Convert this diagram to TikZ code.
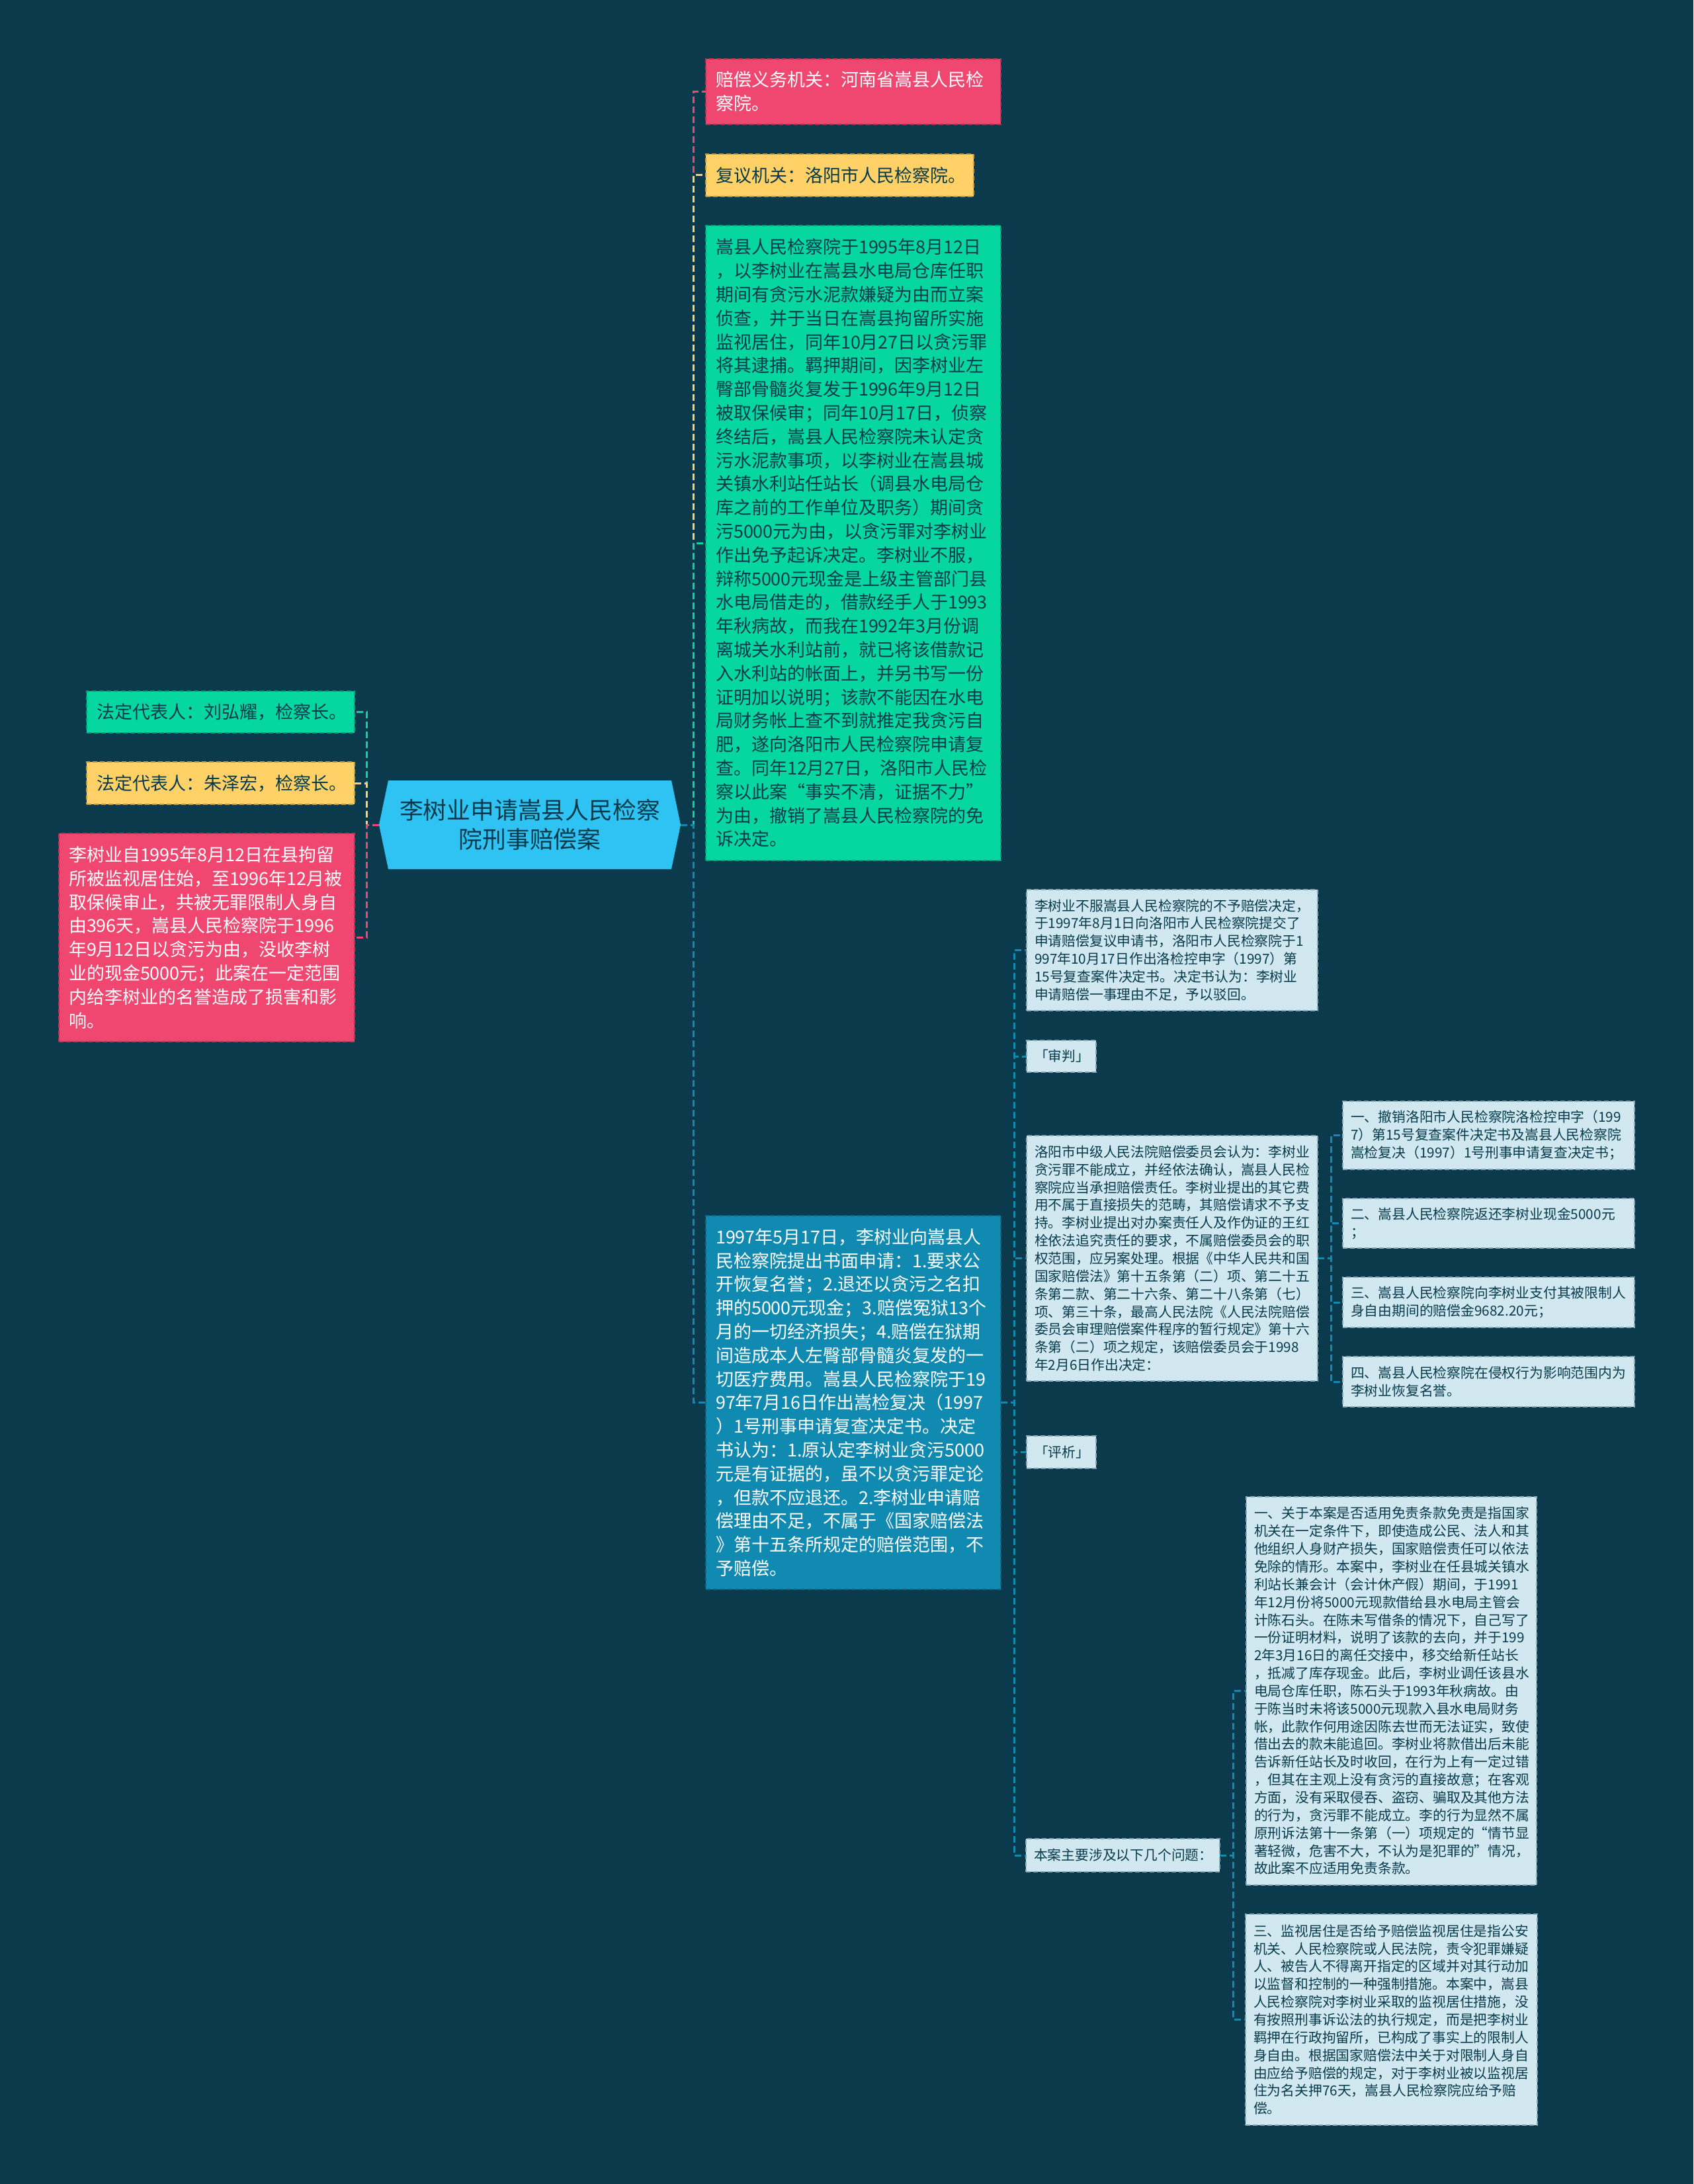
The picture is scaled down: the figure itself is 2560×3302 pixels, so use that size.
\documentclass[tikz,border=0pt]{standalone}
\usepackage{fontspec}
\setmainfont{Noto Sans CJK SC}
\definecolor{bgc}{HTML}{0A3A4C}
\definecolor{pinkc}{HTML}{EF476F}
\definecolor{yellowc}{HTML}{FFD166}
\definecolor{greenc}{HTML}{06D6A0}
\definecolor{bluec}{HTML}{118AB2}
\definecolor{centerc}{HTML}{2EC3F3}
\definecolor{lightc}{HTML}{D1E8F0}
\definecolor{lightd}{HTML}{8AA9B6}
\definecolor{darkc}{HTML}{073B4C}
\tikzset{
  boxbase/.style={rectangle, anchor=north west, outer sep=0pt, inner ysep=0pt, align=left, line width=2pt, dash pattern=on 7pt off 4pt},
  bigbox/.style={boxbase, inner xsep=15pt, font=\fontsize{27}{35.8}\selectfont},
  smallbox/.style={boxbase, inner xsep=12pt, font=\fontsize{20.8}{26.85}\selectfont, fill=lightc, draw=lightd, text=darkc},
  pinkbox/.style={bigbox, fill=pinkc, draw=pinkc!75!black, text=white},
  yellowbox/.style={bigbox, fill=yellowc, draw=yellowc!75!black, text=darkc},
  greenbox/.style={bigbox, fill=greenc, draw=greenc!75!black, text=darkc},
  bluebox/.style={bigbox, fill=bluec, draw=bluec!75!black, text=white},
  conn/.style={line width=3pt, dash pattern=on 10pt off 5pt},
}
\begin{document}
\begin{tikzpicture}[x=1pt,y=-1pt]
\useasboundingbox (0,0) rectangle (2560,3302);
\fill[bgc] (0,0) rectangle (2560,3302);

% center
\fill[centerc] (587,1180) -- (1015,1180) -- (1029,1247) -- (1015,1314) -- (587,1314) -- (573,1247) -- cycle;
\node[font=\fontsize{35.8}{44.6}\selectfont, text=darkc, align=center, minimum width=456pt, minimum height=134pt, inner sep=0pt, outer sep=0pt] (c) at (801,1247) {李树业申请嵩县人民检察\\院刑事赔偿案};

% right of center
\node[pinkbox, minimum width=446pt, minimum height=99pt, text width=416pt] (tp) at (1067,89) {赔偿义务机关：河南省嵩县人民检\\察院。};
\node[yellowbox, minimum width=405pt, minimum height=64pt, text width=375pt] (ty) at (1067,233) {复议机关：洛阳市人民检察院。};
\node[greenbox, minimum width=446pt, minimum height=960pt, text width=416pt] (gr) at (1067,341) {嵩县人民检察院于1995年8月12日\\，以李树业在嵩县水电局仓库任职\\期间有贪污水泥款嫌疑为由而立案\\侦查，并于当日在嵩县拘留所实施\\监视居住，同年10月27日以贪污罪\\将其逮捕。羁押期间，因李树业左\\臀部骨髓炎复发于1996年9月12日\\被取保候审；同年10月17日，侦察\\终结后，嵩县人民检察院未认定贪\\污水泥款事项，以李树业在嵩县城\\关镇水利站任站长（调县水电局仓\\库之前的工作单位及职务）期间贪\\污5000元为由，以贪污罪对李树业\\作出免予起诉决定。李树业不服，\\辩称5000元现金是上级主管部门县\\水电局借走的，借款经手人于1993\\年秋病故，而我在1992年3月份调\\离城关水利站前，就已将该借款记\\入水利站的帐面上，并另书写一份\\证明加以说明；该款不能因在水电\\局财务帐上查不到就推定我贪污自\\肥，遂向洛阳市人民检察院申请复\\查。同年12月27日，洛阳市人民检\\察以此案“事实不清，证据不力”\\为由，撤销了嵩县人民检察院的免\\诉决定。};
\node[bluebox, minimum width=446pt, minimum height=565pt, text width=416pt] (bl) at (1067,1838) {1997年5月17日，李树业向嵩县人\\民检察院提出书面申请：1.要求公\\开恢复名誉；2.退还以贪污之名扣\\押的5000元现金；3.赔偿冤狱13个\\月的一切经济损失；4.赔偿在狱期\\间造成本人左臀部骨髓炎复发的一\\切医疗费用。嵩县人民检察院于19\\97年7月16日作出嵩检复决（1997\\）1号刑事申请复查决定书。决定\\书认为：1.原认定李树业贪污5000\\元是有证据的，虽不以贪污罪定论\\，但款不应退还。2.李树业申请赔\\偿理由不足，不属于《国家赔偿法\\》第十五条所规定的赔偿范围，不\\予赔偿。};

% left of center
\node[greenbox, minimum width=405pt, minimum height=63pt, text width=375pt] (lg) at (131,1045) {法定代表人：刘弘耀，检察长。};
\node[yellowbox, minimum width=405pt, minimum height=64pt, text width=375pt] (ly) at (131,1152) {法定代表人：朱泽宏，检察长。};
\node[pinkbox, minimum width=447pt, minimum height=315pt, text width=417pt] (lp) at (89,1260) {李树业自1995年8月12日在县拘留\\所被监视居住始，至1996年12月被\\取保候审止，共被无罪限制人身自\\由396天，嵩县人民检察院于1996\\年9月12日以贪污为由，没收李树\\业的现金5000元；此案在一定范围\\内给李树业的名誉造成了损害和影\\响。};

% children of blue box
\node[smallbox, minimum width=440pt, minimum height=183pt, text width=416pt] (r1) at (1552,1345) {李树业不服嵩县人民检察院的不予赔偿决定，\\于1997年8月1日向洛阳市人民检察院提交了\\申请赔偿复议申请书，洛阳市人民检察院于1\\997年10月17日作出洛检控申字（1997）第\\15号复查案件决定书。决定书认为：李树业\\申请赔偿一事理由不足，予以驳回。};
\node[smallbox, minimum width=105pt, minimum height=48pt, text width=81pt] (sp) at (1552,1573) {「审判」};
\node[smallbox, minimum width=440pt, minimum height=371pt, text width=416pt] (lc) at (1552,1717) {洛阳市中级人民法院赔偿委员会认为：李树业\\贪污罪不能成立，并经依法确认，嵩县人民检\\察院应当承担赔偿责任。李树业提出的其它费\\用不属于直接损失的范畴，其赔偿请求不予支\\持。李树业提出对办案责任人及作伪证的王红\\栓依法追究责任的要求，不属赔偿委员会的职\\权范围，应另案处理。根据《中华人民共和国\\国家赔偿法》第十五条第（二）项、第二十五\\条第二款、第二十六条、第二十八条第（七）\\项、第三十条，最高人民法院《人民法院赔偿\\委员会审理赔偿案件程序的暂行规定》第十六\\条第（二）项之规定，该赔偿委员会于1998\\年2月6日作出决定：};
\node[smallbox, minimum width=105pt, minimum height=49pt, text width=81pt] (px) at (1552,2171) {「评析」};
\node[smallbox, minimum width=293pt, minimum height=50pt, text width=269pt] (ba) at (1551,2780) {本案主要涉及以下几个问题：};

% children of court box
\node[smallbox, minimum width=441pt, minimum height=103pt, text width=417pt] (d1) at (2030,1665) {一、撤销洛阳市人民检察院洛检控申字（199\\7）第15号复查案件决定书及嵩县人民检察院\\嵩检复决（1997）1号刑事申请复查决定书；};
\node[smallbox, minimum width=441pt, minimum height=75pt, text width=417pt] (d2) at (2030,1812) {二、嵩县人民检察院返还李树业现金5000元\\；};
\node[smallbox, minimum width=441pt, minimum height=76pt, text width=417pt] (d3) at (2030,1931) {三、嵩县人民检察院向李树业支付其被限制人\\身自由期间的赔偿金9682.20元；};
\node[smallbox, minimum width=441pt, minimum height=76pt, text width=417pt] (d4) at (2030,2051) {四、嵩县人民检察院在侵权行为影响范围内为\\李树业恢复名誉。};

% children of analysis
\node[smallbox, minimum width=439pt, minimum height=587pt, text width=415pt] (e1) at (1884,2263) {一、关于本案是否适用免责条款免责是指国家\\机关在一定条件下，即使造成公民、法人和其\\他组织人身财产损失，国家赔偿责任可以依法\\免除的情形。本案中，李树业在任县城关镇水\\利站长兼会计（会计休产假）期间，于1991\\年12月份将5000元现款借给县水电局主管会\\计陈石头。在陈未写借条的情况下，自己写了\\一份证明材料，说明了该款的去向，并于199\\2年3月16日的离任交接中，移交给新任站长\\，抵减了库存现金。此后，李树业调任该县水\\电局仓库任职，陈石头于1993年秋病故。由\\于陈当时未将该5000元现款入县水电局财务\\帐，此款作何用途因陈去世而无法证实，致使\\借出去的款未能追回。李树业将款借出后未能\\告诉新任站长及时收回，在行为上有一定过错\\，但其在主观上没有贪污的直接故意；在客观\\方面，没有采取侵吞、盗窃、骗取及其他方法\\的行为，贪污罪不能成立。李的行为显然不属\\原刑诉法第十一条第（一）项规定的“情节显\\著轻微，危害不大，不认为是犯罪的”情况，\\故此案不应适用免责条款。};
\node[smallbox, minimum width=441pt, minimum height=319pt, text width=417pt] (e3) at (1883,2894) {三、监视居住是否给予赔偿监视居住是指公安\\机关、人民检察院或人民法院，责令犯罪嫌疑\\人、被告人不得离开指定的区域并对其行动加\\以监督和控制的一种强制措施。本案中，嵩县\\人民检察院对李树业采取的监视居住措施，没\\有按照刑事诉讼法的执行规定，而是把李树业\\羁押在行政拘留所，已构成了事实上的限制人\\身自由。根据国家赔偿法中关于对限制人身自\\由应给予赔偿的规定，对于李树业被以监视居\\住为名关押76天，嵩县人民检察院应给予赔\\偿。};

% connectors
\draw[conn, draw=pinkc] (c.east) -- ++(19,0) |- (tp.west);
\draw[conn, draw=yellowc] (c.east) -- ++(19,0) |- (ty.west);
\draw[conn, draw=greenc] (c.east) -- ++(19,0) |- (gr.west);
\draw[conn, draw=bluec] (c.east) -- ++(19,0) |- (bl.west);
\draw[conn, draw=greenc] (c.west) -- ++(-19,0) |- (lg.east);
\draw[conn, draw=yellowc] (c.west) -- ++(-19,0) |- (ly.east);
\draw[conn, draw=pinkc] (c.west) -- ++(-19,0) |- (lp.east);
\foreach \t in {r1,sp,lc,px,ba} \draw[conn, draw=bluec] (bl.east) -- ++(20,0) |- (\t.west);
\foreach \t in {d1,d2,d3,d4} \draw[conn, draw=bluec] (lc.east) -- ++(20,0) |- (\t.west);
\foreach \t in {e1,e3} \draw[conn, draw=bluec] (ba.east) -- ++(20,0) |- (\t.west);
\end{tikzpicture}
\end{document}
